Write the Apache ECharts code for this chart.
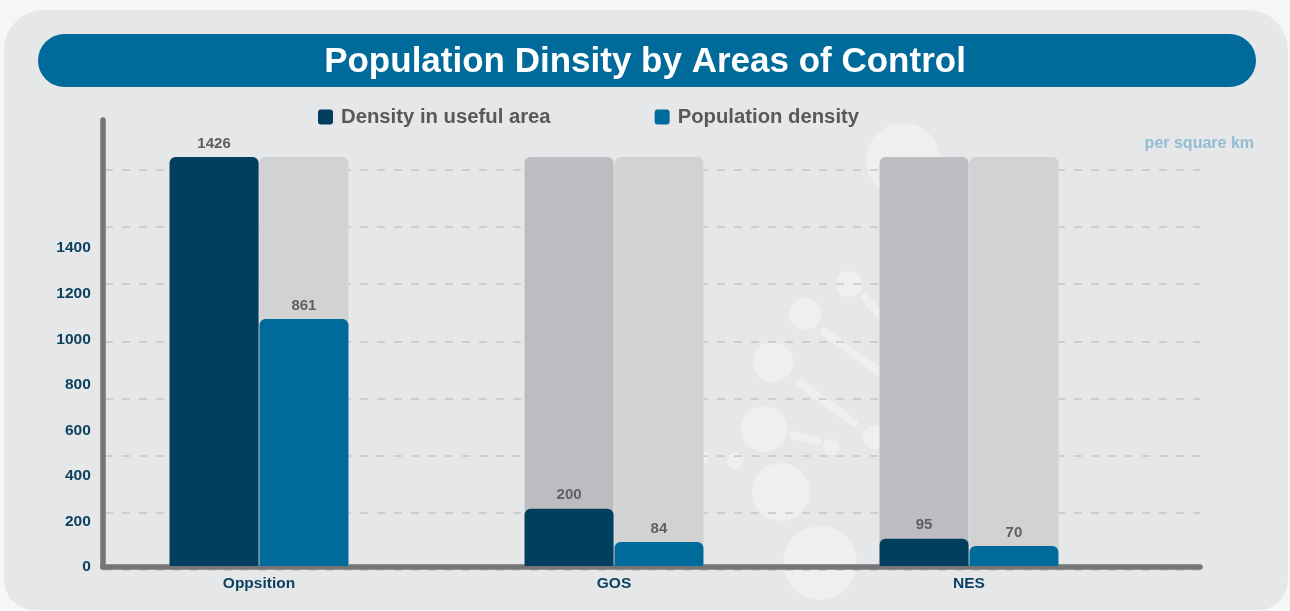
<!DOCTYPE html>
<html>
<head>
<meta charset="utf-8">
<title>Population Dinsity by Areas of Control</title>
<script src="https://cdn.jsdelivr.net/npm/echarts@6/dist/echarts.min.js"></script>
<style>
  html, body { margin: 0; padding: 0; background: #f5f6f6; }
  #chart { width: 1290px; height: 611px; }
</style>
</head>
<body>
<div id="chart"></div>
<script>
// Areas of control and densities (people per square km)
const categories = ['Oppsition', 'GOS', 'NES'];
const usefulAreaDensity = [1426, 200, 95];
const populationDensity = [861, 84, 70];
// Printed scale on the value axis
const yTickLabels = [0, 200, 400, 600, 800, 1000, 1200, 1400];
const seriesNames = ['Density in useful area', 'Population density'];

const FONT = '"Liberation Sans", Arial, Helvetica, sans-serif';
const NAVY = '#023f5e';
const BLUE = '#006a9a';

const barMax = Math.max(...usefulAreaDensity, ...populationDensity);
const tickStep = yTickLabels[1] - yTickLabels[0];
const tickTop = yTickLabels[yTickLabels.length - 1];

// soft decorative dots and streaks on the panel
const dots = [
  [903, 160, 37], [849, 284, 13], [805, 314, 16], [773, 362, 20],
  [764, 429, 23], [781, 492, 29], [820, 563, 37], [831, 447, 8],
  [735, 461, 8], [703, 457, 6], [875, 437, 12]
];
const streaks = [
  [824, 332, 881, 373], [800, 383, 854, 423], [794, 435, 817, 442], [865, 298, 882, 317]
];
const decor = dots.map(d => ({
  type: 'circle', z: -5, silent: true,
  shape: { cx: d[0], cy: d[1], r: d[2] },
  style: { fill: '#efefef' }
})).concat(streaks.map(s => ({
  type: 'line', z: -5, silent: true,
  shape: { x1: s[0], y1: s[1], x2: s[2], y2: s[3] },
  style: { stroke: '#efefef', lineWidth: 8, lineCap: 'round' }
})));

const chart = echarts.init(document.getElementById('chart'), null, { renderer: 'canvas' });

const valueLabel = {
  show: true, position: 'top', distance: 6,
  color: '#606062', fontSize: 15, fontWeight: 'bold', fontFamily: FONT
};

chart.setOption({
  backgroundColor: '#f5f6f6',
  animation: false,
  textStyle: { fontFamily: FONT },
  title: {
    text: 'Population Dinsity by Areas of Control',
    left: 'center', top: 40,
    textStyle: { color: '#ffffff', fontSize: 35, fontWeight: 'bold', fontFamily: FONT }
  },
  graphic: [
    { type: 'rect', z: -10, silent: true,
      shape: { x: 4, y: 10, width: 1284, height: 600, r: [40, 40, 30, 30] },
      style: { fill: '#e6e7e9' } },
    { type: 'rect', z: -1, silent: true,
      shape: { x: 38, y: 34, width: 1218, height: 53, r: 26.5 },
      style: { fill: BLUE } },
    { type: 'text', z: 5, silent: true,
      right: 36, top: 136,
      style: { text: 'per square km', fill: '#93bcd2', fontSize: 16, fontWeight: 'bold', font: 'bold 16px ' + FONT } }
  ].concat(decor),
  legend: {
    data: seriesNames,
    left: 313, top: 102,
    itemWidth: 15, itemHeight: 15, itemGap: 104,
    icon: 'path://M3,0 H12 Q15,0 15,3 V12 Q15,15 12,15 H3 Q0,15 0,12 V3 Q0,0 3,0 Z',
    textStyle: { color: '#58595b', fontSize: 20.3, fontWeight: 'bold', fontFamily: FONT, padding: [0, 0, 0, 3] }
  },
  grid: [
    { left: 81.5, right: 143.5, top: 157, bottom: 45 },   // bars
    { left: 105, right: 90, top: 170, bottom: 41.3 },     // dashed guide lines
    { left: 102.75, right: 90, top: 120, bottom: 44 },    // axis frame
    { left: 102.75, right: 90, top: 157, bottom: 44 }     // printed scale
  ],
  xAxis: [
    { type: 'category', gridIndex: 0, data: categories,
      axisLine: { show: false }, axisTick: { show: false },
      axisLabel: { margin: 10, color: '#0b3f5e', fontSize: 15.5, fontWeight: 'bold', fontFamily: FONT } },
    { type: 'value', gridIndex: 1, show: false },
    { type: 'value', gridIndex: 2, min: 0, max: 1,
      axisLine: { show: true, lineStyle: { color: '#767679', width: 5.5 } },
      axisTick: { show: false }, axisLabel: { show: false }, splitLine: { show: false } },
    { type: 'value', gridIndex: 3, show: false }
  ],
  yAxis: [
    { type: 'value', gridIndex: 0, min: 0, max: barMax, show: false },
    { type: 'value', gridIndex: 1, min: 0, max: tickTop, interval: tickStep,
      axisLine: { show: false }, axisTick: { show: false }, axisLabel: { show: false },
      splitLine: { show: true, lineStyle: { color: '#c5c6c8', width: 1.5, type: [8, 9] } } },
    { type: 'value', gridIndex: 2, min: 0, max: 1,
      axisLine: { show: true, lineStyle: { color: '#767679', width: 5.5 } },
      axisTick: { show: false }, axisLabel: { show: false }, splitLine: { show: false } },
    { type: 'value', gridIndex: 3, min: 0, max: tickTop + 2 * tickStep, interval: tickStep,
      axisLine: { show: false }, axisTick: { show: false }, splitLine: { show: false },
      axisLabel: {
        margin: 12, color: '#0b3f5e', fontSize: 15.5, fontWeight: 'bold', fontFamily: FONT,
        formatter: v => (yTickLabels.indexOf(v) >= 0 ? String(v) : '')
      } }
  ],
  series: [
    { name: seriesNames[0], type: 'bar', xAxisIndex: 0, yAxisIndex: 0, z: 3,
      data: usefulAreaDensity, barWidth: 89, barGap: '1%',
      itemStyle: { color: NAVY, borderRadius: [6, 6, 0, 0] },
      showBackground: true,
      backgroundStyle: { color: '#bcbdc0', borderRadius: [6, 6, 0, 0] },
      label: valueLabel },
    { name: seriesNames[1], type: 'bar', xAxisIndex: 0, yAxisIndex: 0, z: 3,
      data: populationDensity, barWidth: 89,
      itemStyle: { color: BLUE, borderRadius: [6, 6, 0, 0] },
      showBackground: true,
      backgroundStyle: { color: '#d1d2d4', borderRadius: [6, 6, 0, 0] },
      label: valueLabel }
  ]
});
</script>
</body>
</html>
